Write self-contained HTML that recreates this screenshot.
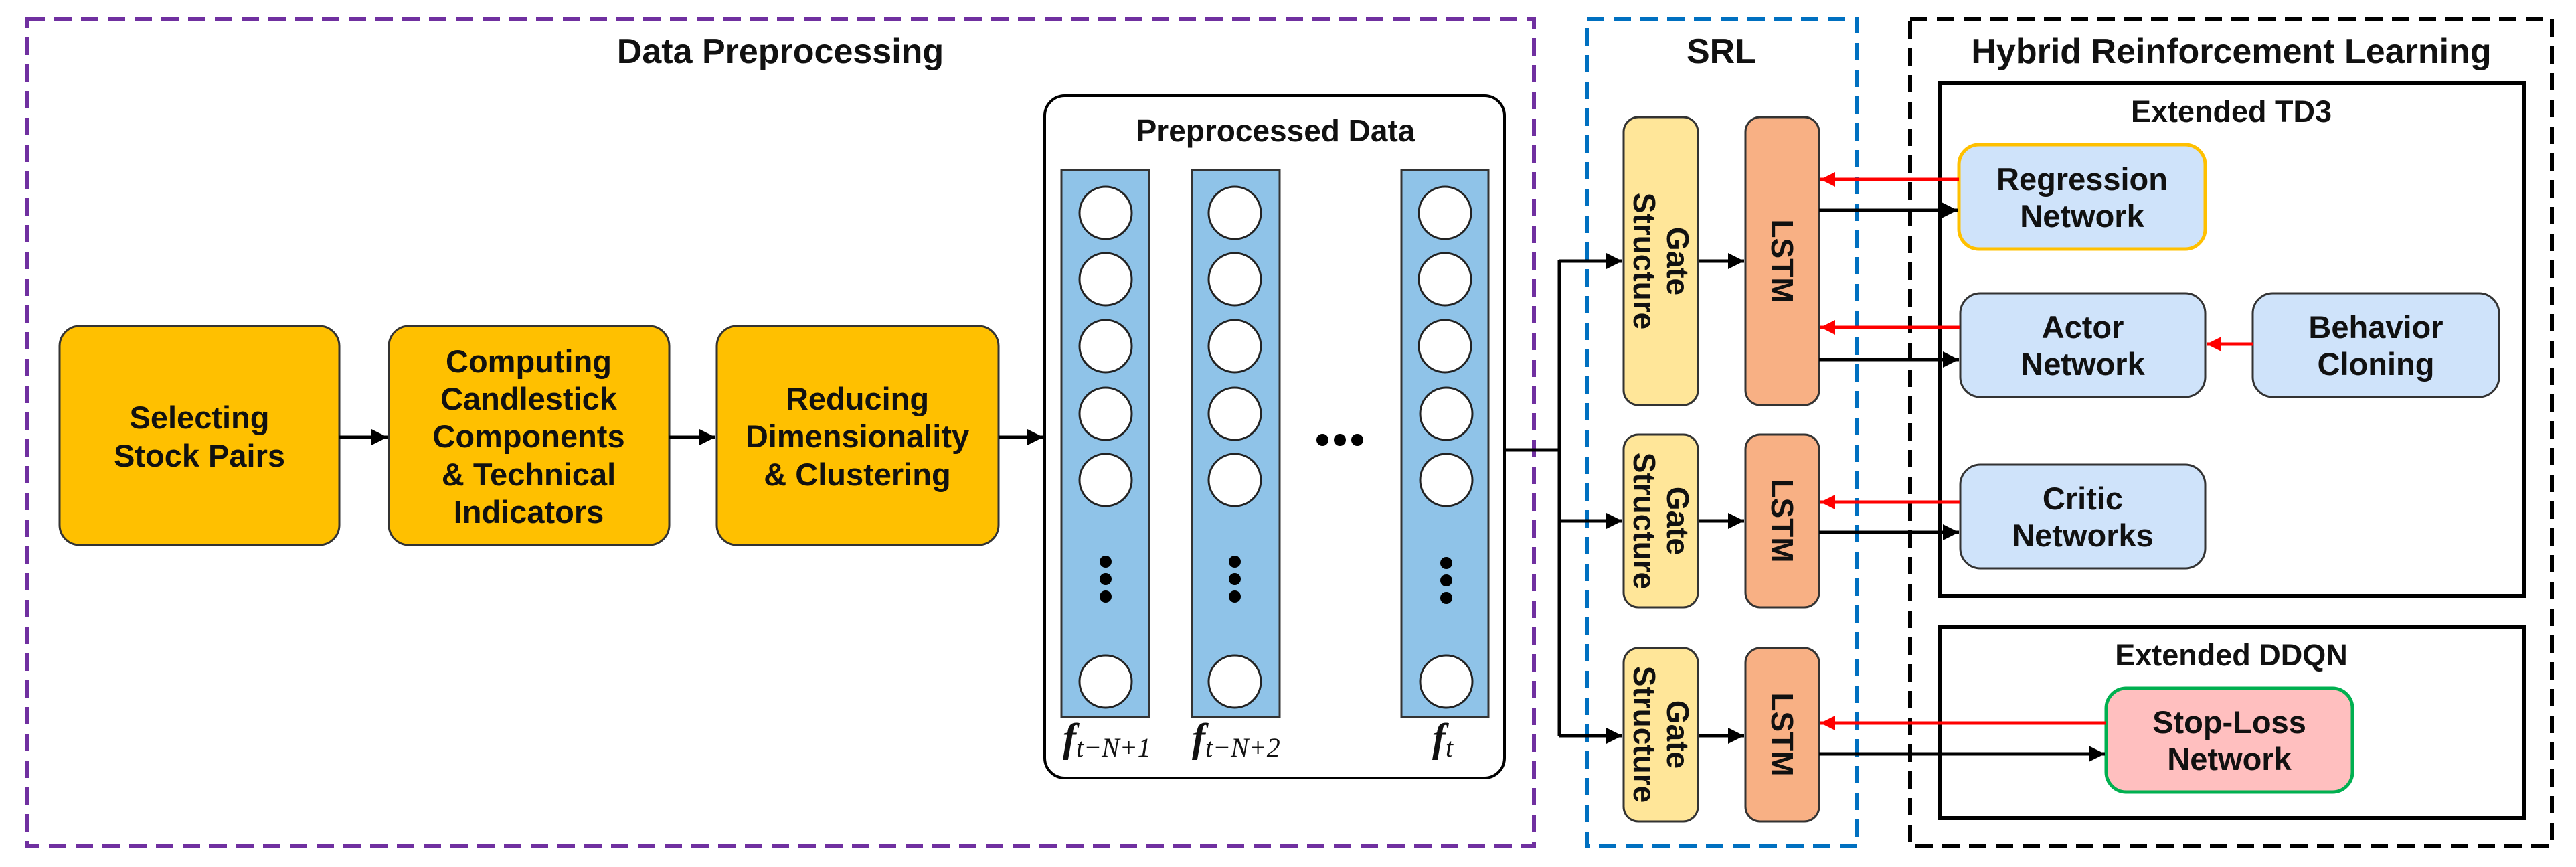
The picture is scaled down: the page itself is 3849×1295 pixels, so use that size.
<!DOCTYPE html>
<html><head><meta charset="utf-8"><style>
html,body{margin:0;padding:0;background:#fff}
svg{display:block}
text{font-family:"Liberation Sans",Arial,sans-serif;font-weight:bold;fill:#111}
</style></head><body>
<svg width="3849" height="1295" viewBox="0 0 3849 1295" xmlns="http://www.w3.org/2000/svg">
<defs>
<marker id="ak" viewBox="0 0 10 10" refX="10" refY="5" markerWidth="28" markerHeight="24" orient="auto" markerUnits="userSpaceOnUse"><path d="M0,0 L10,5 L0,10 z" fill="#000"/></marker>
<marker id="ar" viewBox="0 0 10 10" refX="10" refY="5" markerWidth="24" markerHeight="22" orient="auto" markerUnits="userSpaceOnUse"><path d="M0,0 L10,5 L0,10 z" fill="#f00"/></marker>
</defs>

<rect x="41" y="28" width="2251" height="1236" fill="none" stroke="#7030A0" stroke-width="6" stroke-dasharray="26,14"/>
<rect x="2371" y="28" width="404" height="1236" fill="none" stroke="#0070C0" stroke-width="6" stroke-dasharray="26,14"/>
<rect x="2854" y="28" width="959" height="1236" fill="none" stroke="#000" stroke-width="6" stroke-dasharray="26,14"/>
<text x="1166" y="94" font-size="52" text-anchor="middle">Data Preprocessing</text>
<text x="2572" y="94" font-size="52" text-anchor="middle">SRL</text>
<text x="3334" y="94" font-size="52" text-anchor="middle">Hybrid Reinforcement Learning</text>

<g fill="#FFC000" stroke="#333" stroke-width="3">
<rect x="89" y="487" width="418" height="327" rx="30"/>
<rect x="581" y="487" width="419" height="327" rx="30"/>
<rect x="1071" y="487" width="421" height="327" rx="30"/>
</g>
<g font-size="47" text-anchor="middle">
<text x="298" y="640">Selecting</text><text x="298" y="697">Stock Pairs</text>
<text x="790" y="556">Computing</text><text x="790" y="612">Candlestick</text><text x="790" y="668">Components</text><text x="790" y="725">&amp; Technical</text><text x="790" y="781">Indicators</text>
<text x="1281" y="612">Reducing</text><text x="1281" y="668">Dimensionality</text><text x="1281" y="725">&amp; Clustering</text>
</g>
<g stroke="#000" stroke-width="5">
<line x1="507" y1="653" x2="579" y2="653" marker-end="url(#ak)"/>
<line x1="1000" y1="653" x2="1069" y2="653" marker-end="url(#ak)"/>
<line x1="1492" y1="653" x2="1559" y2="653" marker-end="url(#ak)"/>
</g>

<rect x="1561" y="143" width="687" height="1019" rx="30" fill="#fff" stroke="#000" stroke-width="4"/>
<text x="1906" y="211" font-size="46" text-anchor="middle">Preprocessed Data</text>
<g fill="#8FC3E8" stroke="#333" stroke-width="3">
<rect x="1586" y="254" width="131" height="817"/>
<rect x="1781" y="254" width="131" height="817"/>
<rect x="2094" y="254" width="130" height="817"/>
</g>
<g fill="#fff" stroke="#222" stroke-width="3">
<circle cx="1652" cy="318" r="39"/><circle cx="1652" cy="417" r="39"/><circle cx="1652" cy="517" r="39"/><circle cx="1652" cy="618" r="39"/><circle cx="1652" cy="717" r="39"/><circle cx="1652" cy="1018" r="39"/>
<circle cx="1845" cy="318" r="39"/><circle cx="1845" cy="417" r="39"/><circle cx="1845" cy="517" r="39"/><circle cx="1845" cy="618" r="39"/><circle cx="1845" cy="717" r="39"/><circle cx="1845" cy="1018" r="39"/>
<circle cx="2159" cy="318" r="39"/><circle cx="2159" cy="417" r="39"/><circle cx="2159" cy="517" r="39"/><circle cx="2161" cy="618" r="39"/><circle cx="2161" cy="717" r="39"/><circle cx="2161" cy="1018" r="39"/>
</g>
<g fill="#000">
<circle cx="1652" cy="839" r="9"/><circle cx="1652" cy="865" r="9"/><circle cx="1652" cy="891" r="9"/>
<circle cx="1845" cy="839" r="9"/><circle cx="1845" cy="865" r="9"/><circle cx="1845" cy="891" r="9"/>
<circle cx="2161" cy="841" r="9"/><circle cx="2161" cy="867" r="9"/><circle cx="2161" cy="893" r="9"/>
<circle cx="1976" cy="657" r="9"/><circle cx="2002" cy="657" r="9"/><circle cx="2028" cy="657" r="9"/>
</g>
<g font-style="italic">
<text x="1588" y="1122" font-size="60" style="font-family:'Liberation Serif',serif">f<tspan font-size="40" dy="8" font-weight="normal">t−N+1</tspan></text>
<text x="1781" y="1122" font-size="60" style="font-family:'Liberation Serif',serif">f<tspan font-size="40" dy="8" font-weight="normal">t−N+2</tspan></text>
<text x="2140" y="1122" font-size="60" style="font-family:'Liberation Serif',serif">f<tspan font-size="40" dy="8" font-weight="normal">t</tspan></text>
</g>

<g stroke="#000" stroke-width="5" fill="none">
<polyline points="2248,672 2330,672"/>
<line x1="2330" y1="388" x2="2330" y2="1099"/>
<line x1="2330" y1="390" x2="2424" y2="390" marker-end="url(#ak)"/>
<line x1="2330" y1="778" x2="2424" y2="778" marker-end="url(#ak)"/>
<line x1="2330" y1="1099" x2="2424" y2="1099" marker-end="url(#ak)"/>
<line x1="2537" y1="390" x2="2606" y2="390" marker-end="url(#ak)"/>
<line x1="2537" y1="778" x2="2606" y2="778" marker-end="url(#ak)"/>
<line x1="2537" y1="1099" x2="2606" y2="1099" marker-end="url(#ak)"/>
</g>

<g stroke="#333" stroke-width="3">
<rect x="2426" y="175" width="111" height="430" rx="22" fill="#FFE699"/>
<rect x="2426" y="649" width="111" height="258" rx="22" fill="#FFE699"/>
<rect x="2426" y="968" width="111" height="259" rx="22" fill="#FFE699"/>
<rect x="2608" y="175" width="110" height="430" rx="22" fill="#F8B084"/>
<rect x="2608" y="649" width="110" height="258" rx="22" fill="#F8B084"/>
<rect x="2608" y="968" width="110" height="259" rx="22" fill="#F8B084"/>
</g>
<g font-size="46" text-anchor="middle">
<text transform="translate(2481,390) rotate(90)"><tspan x="0" y="-10">Gate</tspan><tspan x="0" y="40">Structure</tspan></text>
<text transform="translate(2481,778) rotate(90)"><tspan x="0" y="-10">Gate</tspan><tspan x="0" y="40">Structure</tspan></text>
<text transform="translate(2481,1097) rotate(90)"><tspan x="0" y="-10">Gate</tspan><tspan x="0" y="40">Structure</tspan></text>
<text transform="translate(2663,390) rotate(90)" y="16">LSTM</text>
<text transform="translate(2663,778) rotate(90)" y="16">LSTM</text>
<text transform="translate(2663,1097) rotate(90)" y="16">LSTM</text>
</g>

<rect x="2898" y="124" width="874" height="766" fill="none" stroke="#000" stroke-width="6"/>
<rect x="2898" y="936" width="874" height="286" fill="none" stroke="#000" stroke-width="6"/>
<text x="3334" y="182" font-size="45" text-anchor="middle">Extended TD3</text>
<text x="3334" y="994" font-size="45" text-anchor="middle">Extended DDQN</text>

<g stroke-width="3">
<rect x="2927" y="216" width="368" height="156" rx="30" fill="#CFE3FA" stroke="#FFC000" stroke-width="5"/>
<rect x="2929" y="438" width="366" height="155" rx="30" fill="#CFE3FA" stroke="#333"/>
<rect x="3366" y="438" width="368" height="155" rx="30" fill="#CFE3FA" stroke="#333"/>
<rect x="2929" y="694" width="366" height="155" rx="30" fill="#CFE3FA" stroke="#333"/>
<rect x="3147" y="1028" width="368" height="155" rx="30" fill="#FFBFBF" stroke="#00B050" stroke-width="5"/>
</g>
<g font-size="47" text-anchor="middle">
<text x="3111" y="284">Regression</text><text x="3111" y="339">Network</text>
<text x="3112" y="505">Actor</text><text x="3112" y="560">Network</text>
<text x="3550" y="505">Behavior</text><text x="3550" y="560">Cloning</text>
<text x="3112" y="761">Critic</text><text x="3112" y="816">Networks</text>
<text x="3331" y="1095">Stop-Loss</text><text x="3331" y="1150">Network</text>
</g>

<g stroke="#f00" stroke-width="5">
<line x1="2927" y1="268" x2="2720" y2="268" marker-end="url(#ar)"/>
<line x1="2929" y1="489" x2="2720" y2="489" marker-end="url(#ar)"/>
<line x1="2929" y1="750" x2="2720" y2="750" marker-end="url(#ar)"/>
<line x1="3147" y1="1080" x2="2720" y2="1080" marker-end="url(#ar)"/>
<line x1="3366" y1="514" x2="3297" y2="514" marker-end="url(#ar)"/>
</g>
<g stroke="#000" stroke-width="5">
<line x1="2718" y1="314" x2="2925" y2="314" marker-end="url(#ak)"/>
<line x1="2718" y1="537" x2="2927" y2="537" marker-end="url(#ak)"/>
<line x1="2718" y1="795" x2="2927" y2="795" marker-end="url(#ak)"/>
<line x1="2718" y1="1126" x2="3145" y2="1126" marker-end="url(#ak)"/>
</g>
</svg>
</body></html>
